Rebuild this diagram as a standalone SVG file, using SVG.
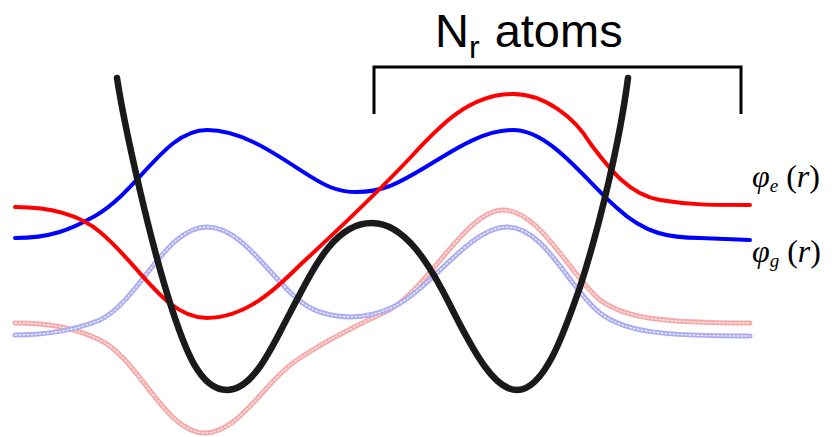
<svg xmlns="http://www.w3.org/2000/svg" width="832" height="437" viewBox="0 0 832 437">
<style>
.c{fill:none;stroke-linecap:round;stroke-linejoin:round}
.red{stroke:#ff0000;stroke-width:4}
.blue{stroke:#0000ff;stroke-width:4}
.fr{stroke:#f7a8a8;stroke-width:5}
.fb{stroke:#acacf2;stroke-width:5}
.dot{stroke:#ffffff;stroke-width:1.4;stroke-dasharray:1.5 2.5;opacity:0.8}
.pot{stroke:#1a1a1a;stroke-width:6.5}
.lbl{font-family:"Liberation Serif",serif;font-style:italic;fill:#000}
</style>
<defs>
<path id="pFR" d="M15,323 C50,323 75,328 100,340 C140,360 165,433 205,433 C240,433 265,380 300,358 C330,338 360,324 383,313 C425,296 465,210 503,210 C540,210 570,275 600,300 C625,318 660,323 750,323"/>
<path id="pFB" d="M15,335 C50,335 75,330 100,320 C140,300 165,227 207,227 C250,227 280,300 320,312 C345,320 370,318 393,307 C430,290 470,227 507,227 C545,227 570,290 600,313 C625,332 660,336 750,336"/>
</defs>
<rect width="832" height="437" fill="#ffffff"/>
<g id="faded">
<use href="#pFR" class="c fr"/>
<use href="#pFR" class="c dot"/>
<use href="#pFB" class="c fb"/>
<use href="#pFB" class="c dot"/>
</g>
<g id="phi_g">
<path class="c blue" d="M15,238 C50,238 70,230 95,216 C140,190 165,130 207,130 C255,130 300,175 330,187 C350,195 370,193 390,186 C430,170 470,130 513,130 C550,130 585,180 617,208 C645,234 670,238 700,238 L750,240"/>
</g>
<g id="phi_e">
<path class="c red" d="M15,207 C50,207 80,215 100,232 C140,265 165,318 207,318 C245,318 275,290 300,265 C340,228 375,195 410,158 C440,125 470,94 513,94 C545,94 575,118 590,143 C610,170 630,195 660,200 C690,205 710,205 750,205"/>
</g>
<g id="potential">
<path class="c pot" d="M117,78 C125,130 150,240 170,303 C185,350 200,390 227,390 C255,390 275,340 290,313 C315,265 335,223 372,223 C405,223 430,265 450,305 C475,355 495,390 517,390 C545,390 565,330 580,287 C600,225 620,140 628,78"/>
</g>
<g id="bracket">
<path d="M374,114 V67 H741 V114" fill="none" stroke="#000" stroke-width="3"/>
<text x="435" y="47" font-family="Liberation Sans, Arial, sans-serif" font-size="47" fill="#000">N<tspan font-size="32" dy="11">r</tspan><tspan dy="-11" dx="2"> atoms</tspan></text>
</g>
<g id="labels">
<text class="lbl" x="752" y="187" font-size="32">φ<tspan font-size="19" dy="5">e</tspan><tspan dy="-5" font-style="normal"> (</tspan>r<tspan font-style="normal">)</tspan></text>
<text class="lbl" x="752" y="262" font-size="32">φ<tspan font-size="19" dy="5">g</tspan><tspan dy="-5" font-style="normal"> (</tspan>r<tspan font-style="normal">)</tspan></text>
</g>
</svg>
